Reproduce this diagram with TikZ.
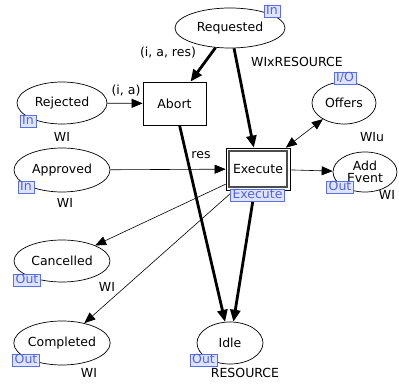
\documentclass[tikz,border=0pt]{standalone}
\usepackage{fontspec}
\setmainfont{DejaVu Sans}
\usetikzlibrary{shapes.geometric,arrows.meta}
\definecolor{tagline}{RGB}{90,110,230}
\definecolor{tagfill}{RGB}{222,228,255}
\definecolor{tagtext}{RGB}{80,100,225}
\tikzset{
  place/.style={ellipse,draw,line width=0.7pt,inner sep=0pt,fill=white},
  trans/.style={rectangle,draw,line width=0.7pt,inner sep=0pt,fill=white},
  porttag/.style={rectangle,draw=tagline,fill=tagfill,text=tagtext,line width=0.6pt,
    inner xsep=2pt,inner ysep=0.3pt,text height=9pt,text depth=2.5pt},
  inscr/.style={inner sep=1pt},
  thinarc/.style={line width=0.6pt,-{Triangle[length=11pt,width=9pt]}},
  thickarc/.style={line width=2.8pt,-{Triangle[length=12pt,width=10pt]}},
}
\begin{document}
\begin{tikzpicture}[x=1pt, y=-1pt, font=\fontsize{12.5}{14}\selectfont]
   \useasboundingbox (0,0) rectangle (399,385);
   % places
   \node[place, minimum width=110, minimum height=40] (req) at (230,28) {Requested};
   \node[place, minimum width=90, minimum height=42] (rej) at (62,103) {Rejected};
   \node[place, minimum width=96, minimum height=44] (appr) at (62,170) {Approved};
   \node[place, minimum width=64, minimum height=42] (offers) at (344,103) {Offers};
   \node[place, minimum width=64, minimum height=40, align=center] (addev) at (365,172) {Add\\[-1.5pt]Event};
   \node[place, minimum width=96, minimum height=42] (canc) at (62,261) {Cancelled};
   \node[place, minimum width=96, minimum height=44] (compl) at (62,343) {Completed};
   \node[place, minimum width=66, minimum height=42] (idle) at (230,343) {Idle};
   % transitions
   \node[trans, minimum width=63, minimum height=43] (abort) at (174.5,103.5) {Abort};
   \node[trans, minimum width=64, minimum height=42] (exec) at (258,169) {};
   \draw[line width=1.5pt, black!70] ([shift={(3.5,3.5)}]exec.north west) rectangle ([shift={(-3.5,-3.5)}]exec.south east);
   \node (execlbl) at (exec) {Execute};
   % arcs
   \draw[thickarc] (req) -- (abort);
   \draw[thickarc] (req) -- (exec);
   \draw[thickarc] (abort) -- (idle);
   \draw[thickarc] (exec) -- (idle);
   \draw[thinarc] (rej) -- (abort);
   \draw[thinarc] (appr) -- (exec);
   \draw[thinarc] (exec) -- (addev);
   \draw[thinarc] (exec) -- (canc);
   \draw[thinarc] (exec) -- (compl);
   \draw[thinarc, {Triangle[length=11pt,width=9pt]}-{Triangle[length=11pt,width=9pt]}] (offers) -- (exec);
   % arc inscriptions
   \node[inscr] (iareq) at (168,53) {(i, a, res)};
   \node[inscr] (iarej) at (126,91) {(i, a)};
   \node[inscr] (resab) at (201,155) {res};
   % colour sets
   \foreach \n/\x/\y/\t in {
      wirej/62/137/WI,
      wiappr/65/203/WI,
      wireq/297/62/WIxRESOURCE,
      wiu/372/137/WIu,
      wiadd/387/195/WI,
      wicanc/107/287/WI,
      wicompl/89/373/WI,
      residle/245/373/RESOURCE
     }
     \node[inscr] (\n) at (\x,\y) {\t};
   % port tags
   \foreach \n/\x/\y/\t in {
      treq/272/11.5/In,
      trej/28/121.5/In,
      tappr/26/187.5/In,
      toffers/345/78.5/I\slash O,
      texec/257.5/195.5/Execute,
      taddev/340/187.5/Out,
      tcanc/27/280/Out,
      tcompl/26/360.5/Out,
      tidle/203.5/360.5/Out
     }
     \node[porttag] (\n) at (\x,\y) {\t};
\end{tikzpicture}
\end{document}
